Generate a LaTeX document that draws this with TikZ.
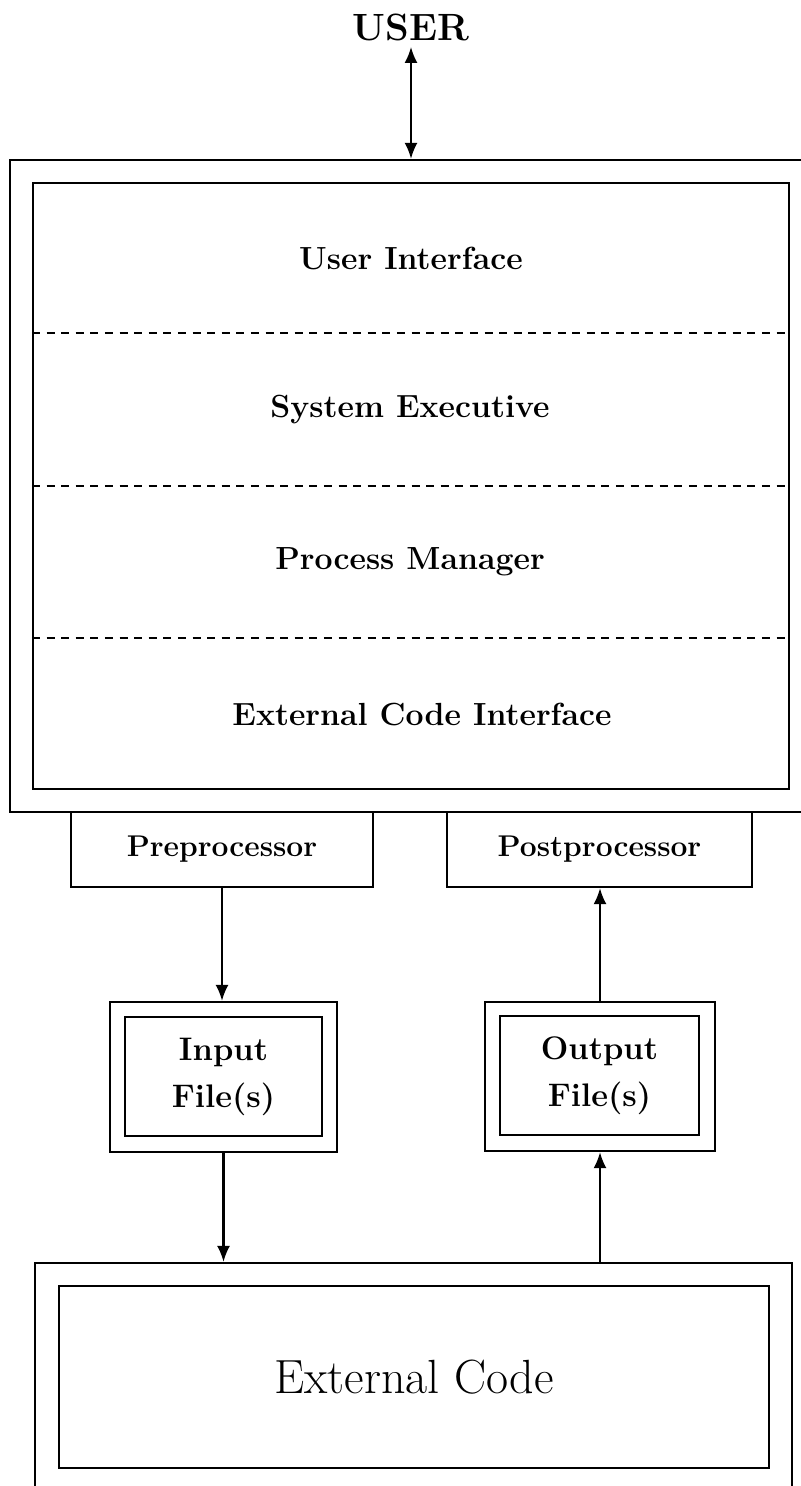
\documentclass[tikz,border=0pt]{standalone}
\usetikzlibrary{positioning,arrows.meta}
\begin{document}
\begin{tikzpicture}[x=0.5pt,y=-0.5pt,
	box/.style={draw,line width=1.1pt,inner sep=0pt},
	layer/.style={font=\fontsize{16}{19}\selectfont\bfseries},
	proc/.style={box,font=\fontsize{15}{18}\selectfont\bfseries},
	file/.style={box,align=center,font=\fontsize{16.3}{23.5}\selectfont\bfseries},
	flow/.style={line width=1.1pt,>={Latex[length=8pt,width=6.5pt]},->},
	divider/.style={line width=1pt,dash pattern=on 4pt off 3.3pt}]
\useasboundingbox (0,0) rectangle (801,1486);
\clip (0,0) rectangle (801,1486);
\node[font=\fontsize{19}{21}\selectfont\bfseries,inner sep=3pt] (user) at (411,27) {USER};
% the program and its layers
\node[box,minimum width=400pt,minimum height=326pt] (shell) at (410,486) {};
\node[box,minimum width=378pt,minimum height=303pt] (core) at (411,486) {};
\coordinate (d1) at (0,333);
\coordinate (d2) at (0,486);
\coordinate (d3) at (0,638);
\draw[divider] (core.west |- d1) -- (core.east |- d1);
\draw[divider] (core.west |- d2) -- (core.east |- d2);
\draw[divider] (core.west |- d3) -- (core.east |- d3);
\node[layer] (ui) at (411,258) {User Interface};
\node[layer] (exec) at (410,410) {System Executive};
\node[layer] (pm) at (410,562) {Process Manager};
\node[layer] (eci) at (422,714) {External Code Interface};
% pre and post
\node[proc,minimum width=151pt,minimum height=37.5pt] (pre) at (222,849.5) {Preprocessor};
\node[proc,minimum width=152.5pt,minimum height=37.5pt] (post) at (599.5,849.5) {Postprocessor};
% files
\node[box,minimum width=113.5pt,minimum height=75pt] (inbox) at (223.5,1077) {};
\node[file,minimum width=98.5pt,minimum height=59.5pt] (infile) at (223.5,1076.5) {Input\\File(s)};
\node[box,minimum width=115pt,minimum height=74.5pt] (outbox) at (600,1076.5) {};
\node[file,minimum width=99.5pt,minimum height=59.5pt] (outfile) at (599.5,1075.5) {Output\\File(s)};
% external code
\node[box,minimum width=378.5pt,minimum height=128.5pt] (extbox) at (413.5,1391.5) {};
\node[box,minimum width=355pt,minimum height=91pt,font=\fontsize{24}{28}\selectfont] (ext) at (414,1377) {External Code};
% arrows
\draw[flow,<->] (user.south) -- (user.south |- shell.north);
\draw[flow] (pre.south) -- (pre.south |- inbox.north);
\draw[flow] (inbox.south) -- (inbox.south |- extbox.north);
\draw[flow] (extbox.north -| outbox.south) -- (outbox.south);
\draw[flow] (outbox.north) -- (outbox.north |- post.south);
\end{tikzpicture}
\end{document}
